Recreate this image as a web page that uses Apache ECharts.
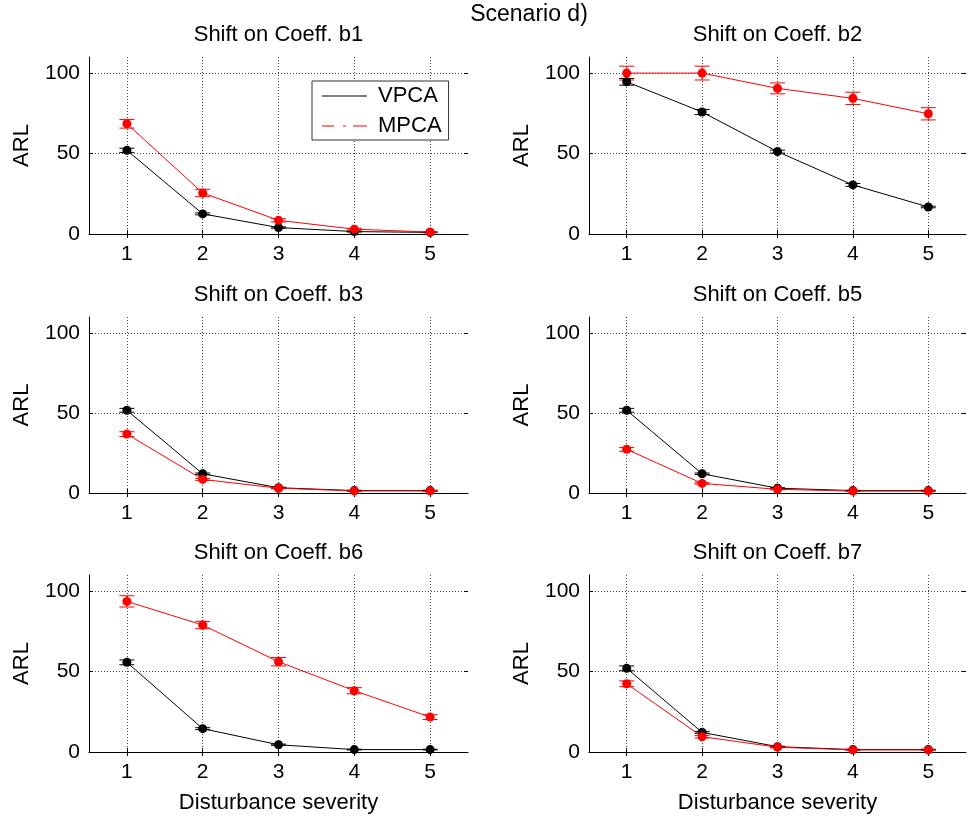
<!DOCTYPE html>
<html>
<head>
<meta charset="utf-8">
<script src="https://cdn.jsdelivr.net/npm/echarts@6/dist/echarts.min.js"></script>
<style>
  html, body { margin: 0; padding: 0; background: #fff; }
  #chart { width: 968px; height: 818px; }
</style>
</head>
<body>
<div id="chart"></div>
<script>
// Disturbance severity levels (x) and panel titles
var severity = [1, 2, 3, 4, 5];
var yTicks = [0, 50, 100];
var panelTitles = ['Shift on Coeff. b1', 'Shift on Coeff. b2', 'Shift on Coeff. b3',
                   'Shift on Coeff. b5', 'Shift on Coeff. b6', 'Shift on Coeff. b7'];

// ARL means and error half-widths
var vpcaB1 = [52, 12.5, 4, 1.5, 1],        vpcaB1Err = [1.3, 0.6, 0.4, 0.3, 0.2];
var mpcaB1 = [68.5, 25.5, 8.5, 3, 1.2],    mpcaB1Err = [2.7, 2.3, 1, 0.5, 0.3];
var vpcaB2 = [94.6, 75.8, 51.2, 30.5, 16.8], vpcaB2Err = [2.1, 1.6, 0.9, 0.9, 0.5];
var mpcaB2 = [100, 100, 90.5, 84.3, 74.7], mpcaB2Err = [4.3, 4.3, 3.4, 3.8, 3.8];
var vpcaB3 = [51.7, 12, 3.3, 1.5, 1.5],    vpcaB3Err = [1.2, 0.5, 0.3, 0.2, 0.2];
var mpcaB3 = [36.8, 8.5, 3, 1.3, 1.3],     mpcaB3Err = [1.5, 0.6, 0.4, 0.3, 0.3];
var vpcaB5 = [51.7, 12, 3, 1.5, 1.5],      vpcaB5Err = [1.2, 0.5, 0.3, 0.2, 0.2];
var mpcaB5 = [27.3, 6, 2.3, 1.2, 1.2],     mpcaB5Err = [1.2, 0.5, 0.3, 0.2, 0.2];
var vpcaB6 = [55.7, 14.5, 4.5, 1.5, 1.5],  vpcaB6Err = [1.5, 0.6, 0.4, 0.2, 0.2];
var mpcaB6 = [93.6, 78.9, 56.1, 38.1, 21.7], mpcaB6Err = [3.5, 2.3, 2.6, 1.9, 1.5];
var vpcaB7 = [52, 12.2, 3.3, 1.5, 1.5],    vpcaB7Err = [1.5, 0.6, 0.3, 0.2, 0.2];
var mpcaB7 = [42.4, 9.5, 3, 1.3, 1.3],     mpcaB7Err = [1.8, 0.8, 0.4, 0.2, 0.2];

var vpcaPanels = [[vpcaB1, vpcaB1Err], [vpcaB2, vpcaB2Err], [vpcaB3, vpcaB3Err],
                  [vpcaB5, vpcaB5Err], [vpcaB6, vpcaB6Err], [vpcaB7, vpcaB7Err]];
var mpcaPanels = [[mpcaB1, mpcaB1Err], [mpcaB2, mpcaB2Err], [mpcaB3, mpcaB3Err],
                  [mpcaB5, mpcaB5Err], [mpcaB6, mpcaB6Err], [mpcaB7, mpcaB7Err]];

var FONT = '"Liberation Sans", Arial, Helvetica, sans-serif';
var FS = 21;      // tick labels
var FS_TEXT = 22; // titles, axis names, legend
var RED = '#ff0000';
var BLACK = '#000000';

// plot rectangles (MATLAB subplot 3x2)
var colLeft = [89, 589], colWidth = [379, 377];
var rowTop = [57, 317, 575], rowHeight = [177, 176, 177];

var chart = echarts.init(document.getElementById('chart'), null, { renderer: 'canvas' });

var grids = [], xAxes = [], yAxes = [], series = [], graphics = [];

function pairs(vals, errs) {
    return severity.map(function (x, i) { return [x, vals[i], errs[i]]; });
}

function errorBarSeries(k, name, color, vals, errs) {
    return {
        type: 'custom',
        name: name + ' err',
        xAxisIndex: 2 * k, yAxisIndex: 2 * k,
        z: 2,
        silent: true,
        data: pairs(vals, errs),
        renderItem: function (params, api) {
            var x = api.value(0), y = api.value(1), e = api.value(2);
            var hi = api.coord([x, y + e]);
            var lo = api.coord([x, y - e]);
            var hw = 7.5;
            var st = { stroke: color, lineWidth: 1 };
            return {
                type: 'group',
                children: [
                    { type: 'line', shape: { x1: hi[0], y1: hi[1], x2: lo[0], y2: lo[1] }, style: st },
                    { type: 'line', shape: { x1: hi[0] - hw, y1: hi[1], x2: hi[0] + hw, y2: hi[1] }, style: st },
                    { type: 'line', shape: { x1: lo[0] - hw, y1: lo[1], x2: lo[0] + hw, y2: lo[1] }, style: st }
                ]
            };
        }
    };
}

function lineSeries(k, name, color, vals) {
    return {
        type: 'line',
        name: name,
        xAxisIndex: 2 * k, yAxisIndex: 2 * k,
        z: 3,
        symbol: 'circle',
        symbolSize: 9,
        showSymbol: true,
        animation: false,
        lineStyle: { color: color, width: 1 },
        itemStyle: { color: color },
        data: severity.map(function (x, i) { return [x, vals[i]]; })
    };
}

var tickStyle = { show: true, inside: true, length: 4, lineStyle: { color: BLACK, width: 1 } };
var gridLine = { show: true, lineStyle: { color: '#444', width: 1, type: [1, 2] } };

for (var k = 0; k < 6; k++) {
    var r = Math.floor(k / 2), c = k % 2;
    grids.push({ left: colLeft[c], top: rowTop[r], width: colWidth[c], height: rowHeight[r], containLabel: false });

    var bottomRow = r === 2;
    // bottom x axis
    xAxes.push({
        type: 'value', gridIndex: k, position: 'bottom', min: 0.5, max: 5.5,
        name: bottomRow ? 'Disturbance severity' : '',
        nameLocation: 'middle', nameGap: 40,
        nameTextStyle: { fontFamily: FONT, fontSize: FS_TEXT, color: BLACK },
        axisLine: { show: true, onZero: false, lineStyle: { color: BLACK, width: 1 } },
        axisTick: Object.assign({ customValues: severity }, tickStyle),
        axisLabel: { customValues: severity, margin: 10, fontFamily: FONT, fontSize: FS, color: BLACK },
        splitLine: gridLine
    });
    // top x axis: ticks only
    xAxes.push({
        type: 'value', gridIndex: k, position: 'top', min: 0.5, max: 5.5,
        axisLine: { show: false },
        axisTick: Object.assign({ customValues: severity }, tickStyle),
        axisLabel: { show: false },
        splitLine: { show: false }
    });
    // left y axis
    yAxes.push({
        type: 'value', gridIndex: k, position: 'left', min: 0, max: 110,
        name: 'ARL', nameLocation: 'middle', nameRotate: 90, nameGap: 56,
        nameTextStyle: { fontFamily: FONT, fontSize: FS_TEXT, color: BLACK },
        axisLine: { show: true, onZero: false, lineStyle: { color: BLACK, width: 1 } },
        axisTick: Object.assign({ customValues: yTicks }, tickStyle),
        axisLabel: { customValues: yTicks, margin: 9, fontFamily: FONT, fontSize: FS, color: BLACK },
        splitLine: gridLine
    });
    // right y axis: ticks only
    yAxes.push({
        type: 'value', gridIndex: k, position: 'right', min: 0, max: 110,
        axisLine: { show: false },
        axisTick: Object.assign({ customValues: yTicks }, tickStyle),
        axisLabel: { show: false },
        splitLine: { show: false }
    });

    var v = vpcaPanels[k], m = mpcaPanels[k];
    series.push(errorBarSeries(k, 'VPCA', BLACK, v[0], v[1]));
    series.push(errorBarSeries(k, 'MPCA', RED, m[0], m[1]));
    series.push(lineSeries(k, 'VPCA', BLACK, v[0]));
    series.push(lineSeries(k, 'MPCA', RED, m[0]));

    graphics.push({
        type: 'text',
        x: colLeft[c] + colWidth[c] / 2,
        y: rowTop[r] - 22,
        style: { text: panelTitles[k], font: FS_TEXT + 'px ' + FONT, fill: BLACK, align: 'center', verticalAlign: 'middle' }
    });
}

graphics.push({
    type: 'text', x: 529, y: 15,
    style: { text: 'Scenario d)', font: '23px ' + FONT, fill: BLACK, align: 'center', verticalAlign: 'middle' }
});

chart.setOption({
    animation: false,
    backgroundColor: '#fff',
    textStyle: { fontFamily: FONT },
    grid: grids,
    xAxis: xAxes,
    yAxis: yAxes,
    series: series,
    graphic: graphics,
    legend: {
        orient: 'vertical',
        left: 312, top: 81,
        backgroundColor: '#fff',
        borderColor: '#333', borderWidth: 1, borderRadius: 0,
        padding: [4, 7, 3, 10],
        itemGap: 8,
        itemWidth: 45, itemHeight: 14,
        selectedMode: false,
        textStyle: { fontFamily: FONT, fontSize: FS_TEXT, color: BLACK, padding: [0, 0, 0, 6] },
        data: [
            { name: 'VPCA', icon: 'path://M0 0H45V1.2H0Z' },
            { name: 'MPCA', icon: 'path://M0 0H12V1.2H0Z M21 0H24V1.2H21Z M31 0H45V1.2H31Z' }
        ]
    }
});
</script>
</body>
</html>
